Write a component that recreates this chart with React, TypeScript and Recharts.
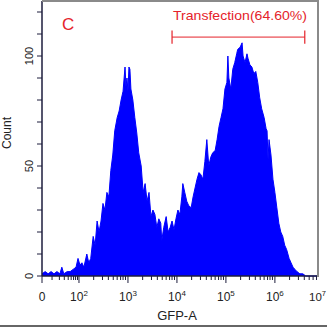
import { AreaChart, Area, XAxis, YAxis, ReferenceLine } from 'recharts';

// GFP-A channel in display decades (logicle-like: 0 sits 0.755 decade below 10^2)
const gfpDecade = [
  1.245, 1.31, 1.37, 1.43, 1.49, 1.55, 1.61, 1.65, 1.69, 1.76, 1.82, 1.88, 1.94, 1.98,
  2.02, 2.06, 2.1, 2.16, 2.2, 2.24, 2.29, 2.33, 2.37, 2.41, 2.45, 2.49, 2.53, 2.57, 2.61,
  2.65, 2.69, 2.73, 2.78, 2.82, 2.86, 2.9, 2.94, 2.96, 2.98, 3.0, 3.02, 3.04, 3.06, 3.1,
  3.14, 3.18, 3.22, 3.27, 3.31, 3.35, 3.39, 3.43, 3.47, 3.51, 3.55, 3.59, 3.63, 3.67, 3.69,
  3.73, 3.78, 3.82, 3.86, 3.9, 3.94, 3.98, 4.02, 4.06, 4.1, 4.12, 4.16, 4.2, 4.24, 4.29,
  4.33, 4.37, 4.41, 4.45, 4.49, 4.53, 4.57, 4.61, 4.65, 4.69, 4.73, 4.78, 4.82, 4.86, 4.9,
  4.94, 4.98, 5.02, 5.04, 5.06, 5.1, 5.14, 5.18, 5.22, 5.24, 5.29, 5.33, 5.35, 5.39, 5.43,
  5.45, 5.49, 5.53, 5.57, 5.61, 5.65, 5.69, 5.73, 5.78, 5.82, 5.84, 5.86, 5.88, 5.92, 5.96,
  6.0, 6.04, 6.08, 6.12, 6.16, 6.2, 6.24, 6.29, 6.33, 6.37, 6.41, 6.45, 6.51, 6.57, 6.63, 6.88,
];
const counts = [
  1, 2, 1, 2, 1, 2, 1, 4, 1, 2, 2, 3, 4, 8,
  5, 6, 4, 10, 6, 8, 18, 14, 25, 20, 25, 33, 30, 38, 36,
  48, 55, 66, 72, 75, 80, 84, 95, 86, 90, 84, 95, 94, 85, 80,
  72, 65, 56, 50, 38, 42, 34, 38, 27, 30, 28, 22, 26, 24, 16,
  22, 27, 20, 22, 25, 21, 26, 30, 28, 36, 42, 38, 34, 32, 31,
  36, 40, 44, 47, 46, 44, 52, 62, 50, 54, 56, 57, 62, 68, 72,
  76, 85, 88, 100, 90, 85, 94, 97, 101, 103, 104, 106, 100, 97, 101,
  99, 96, 95, 92, 93, 88, 81, 76, 72, 67, 66, 53, 62, 55, 44,
  38, 31, 24, 20, 18, 14, 12, 8, 6, 4, 3, 2, 1, 1, 0, 0,
];

const xMajor = [1.245, 2, 3, 4, 5, 6];
const xMajorLabels = ['0', '2', '3', '4', '5', '6'];
const xMinor = [
  1.45, 1.6, 1.7, 1.78, 1.84, 1.89, 1.93, 1.97,
  2.3, 2.48, 2.6, 2.7, 2.78, 2.85, 2.9, 2.95,
  3.3, 3.48, 3.6, 3.7, 3.78, 3.85, 3.9, 3.95,
  4.3, 4.48, 4.6, 4.7, 4.78, 4.85, 4.9, 4.95,
  5.3, 5.48, 5.6, 5.7, 5.78, 5.85, 5.9, 5.95,
  6.3, 6.48, 6.6, 6.7, 6.78, 6.85,
];
const yMajor = [0, 50, 100];
const yMinor = [10, 20, 30, 40, 60, 70, 80, 90, 110, 120];

const gateFrom = 3.9;
const gateTo = 6.61;
const gateY = 108.6;
const gateLabel = 'Transfection(64.60%)';

const data = gfpDecade.map((g, i) => ({ g, count: counts[i] }));

const font = '"Liberation Sans", Arial, sans-serif';
const red = '#e5222a';
const axisColor = '#1c1c3c';

const XTick = (props: any) => {
  const { x, y, payload } = props;
  const i = xMajor.indexOf(payload.value);
  if (i < 0) {
    return <line x1={x} x2={x} y1={y} y2={y + 4} stroke={axisColor} strokeWidth={1} />;
  }
  const lab = xMajorLabels[i];
  return (
    <g>
      <line x1={x} x2={x} y1={y} y2={y + 7} stroke={axisColor} strokeWidth={1} />
      <text x={x} y={y + 25} textAnchor="middle" fontFamily={font} fontSize={12} fill="#222">
        {lab === '0' ? '0' : (
          <>
            <tspan>10</tspan>
            <tspan dy={-5} fontSize={8}>{lab}</tspan>
          </>
        )}
      </text>
    </g>
  );
};

const YTick = (props: any) => {
  const { x, y, payload } = props;
  const major = yMajor.includes(payload.value);
  return (
    <g>
      <line x1={x - 5} x2={x} y1={y} y2={y} stroke={axisColor} strokeWidth={1} />
      {major && (
        <text
          x={x - 13}
          y={y}
          transform={`rotate(-90 ${x - 13} ${y})`}
          textAnchor="middle"
          dominantBaseline="central"
          fontFamily={font}
          fontSize={11}
          fill="#222"
        >
          {payload.value}
        </text>
      )}
    </g>
  );
};

export default function App() {
  return (
    <div style={{ position: 'absolute', left: 0, top: 0, width: 327, height: 327, background: '#fff' }}>
      <AreaChart width={327} height={327} data={data} margin={{ top: 1, right: 9, bottom: 0, left: 0 }}>
        <XAxis
          dataKey="g"
          type="number"
          domain={[1.245, 6.88]}
          ticks={[...xMajor, ...xMinor]}
          interval={0}
          tick={<XTick />}
          tickLine={false}
          tickSize={0}
          tickMargin={0}
          height={51}
          axisLine={{ stroke: axisColor, strokeWidth: 1.5 }}
        />
        <YAxis
          type="number"
          domain={[0, 125]}
          ticks={[...yMajor, ...yMinor]}
          interval={0}
          tick={<YTick />}
          tickLine={false}
          tickSize={0}
          tickMargin={0}
          width={42}
          axisLine={{ stroke: axisColor, strokeWidth: 1.5 }}
        />
        <Area
          type="linear"
          dataKey="count"
          stroke="#0000ff"
          strokeWidth={1}
          fill="#0000ff"
          fillOpacity={1}
          isAnimationActive={false}
        />
        <ReferenceLine segment={[{ x: gateFrom, y: gateY }, { x: gateTo, y: gateY }]} stroke={red} strokeWidth={1} />
        <ReferenceLine segment={[{ x: gateFrom, y: gateY - 3 }, { x: gateFrom, y: gateY + 3 }]} stroke={red} strokeWidth={1.2} />
        <ReferenceLine segment={[{ x: gateTo, y: gateY - 3 }, { x: gateTo, y: gateY + 3 }]} stroke={red} strokeWidth={1.2} />
      </AreaChart>
      <svg width={327} height={327} style={{ position: 'absolute', left: 0, top: 0, pointerEvents: 'none' }}>
        <line x1={42} x2={319} y1={1} y2={1} stroke="#8a8a8a" strokeWidth={2} />
        <line x1={318} x2={318} y1={0} y2={277} stroke="#8a8a8a" strokeWidth={2} />
        <line x1={0} x2={327} y1={326} y2={326} stroke="#333" strokeWidth={1.5} />
        <text x={62} y={30} fontFamily={font} fontSize={17} fill={red}>C</text>
        <text x={173} y={19.5} fontFamily={font} fontSize={13} fill={red} textLength={134} lengthAdjust="spacingAndGlyphs">
          {gateLabel}
        </text>
        <text x={7} y={133} transform="rotate(-90 7 133)" textAnchor="middle" dominantBaseline="central" fontFamily={font} fontSize={12} fill="#222">
          Count
        </text>
        <text x={177} y={320} textAnchor="middle" fontFamily={font} fontSize={13} fill="#222">GFP-A</text>
        <text x={309} y={301} fontFamily={font} fontSize={11.5} fill="#222">
          <tspan>10</tspan>
          <tspan dy={-5} fontSize={7.5}>7</tspan>
        </text>
      </svg>
    </div>
  );
}
